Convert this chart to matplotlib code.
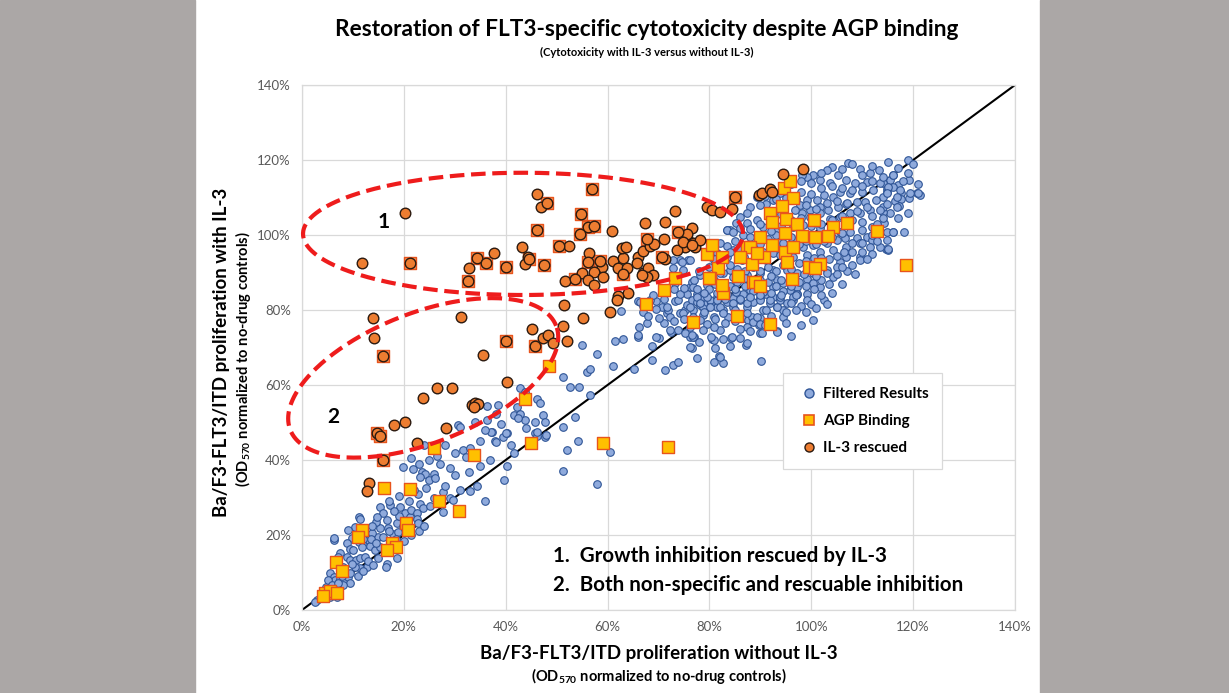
import numpy as np
import matplotlib.pyplot as plt
from matplotlib.patches import Rectangle
from matplotlib.lines import Line2D

plt.rcParams['font.family'] = ['Lato', 'DejaVu Sans']
plt.rcParams['mathtext.default'] = 'regular'

# ---------- data (values in %) ----------
# Filtered results (blue)
filt_x = [19.9, 21.7, 23.5, 24.2, 25.9, 23.2, 25.0, 26.1, 24.3, 27.6, 29.1, 29.7, 22.8, 23.2, 23.8, 25.1, 27.7,
          31.7, 32.3, 33.0, 32.8, 34.4, 35.9, 33.0, 37.4, 37.9, 39.5, 40.2, 39.7, 40.3, 41.7, 45.7, 46.1, 47.7,
          52.0, 54.1, 51.3, 30.7, 34.0,
          15.3, 17.3, 16.0, 19.2, 20.2, 21.2, 21.5, 22.5, 16.6, 16.9, 18.6, 19.9, 17.9, 18.9, 22.5, 22.8, 15.3,
          15.0, 13.7, 13.0, 12.0, 13.4, 14.3, 15.3, 16.3, 11.1, 11.4, 10.4, 9.1, 9.8, 11.1, 11.7, 8.8, 9.4, 6.2,
          7.5, 8.8, 9.4, 10.7, 11.4, 12.4, 12.7, 11.4, 10.4, 9.8, 8.1, 7.1, 5.5, 6.2, 6.5, 7.5, 8.4, 9.1, 9.4,
          8.1, 6.8, 6.2, 4.8, 5.2, 4.2, 3.5, 5.5, 6.8, 16.6, 16.4, 18.6, 6.2, 14.5, 13.8, 14.8,
          54.9, 55.9, 52.6, 54.3, 56.5, 51.3, 53.6, 47.4, 45.7, 43.8, 42.2, 41.6, 42.8, 42.5, 46.1, 46.7, 47.7,
          48.0, 46.1, 40.1, 38.1, 37.2, 36.3, 38.0, 38.5, 36.4, 31.0, 42.8, 43.8,
          57.9, 56.5, 61.1, 61.5, 62.6, 65.2, 66.2, 66.0, 67.8, 68.7, 70.1, 71.3, 72.9, 73.9, 72.5, 73.9, 68.8,
          76.5, 76.2, 77.0, 77.6, 80.6, 80.9, 81.9, 82.6, 84.2, 87.2, 90.1, 89.9, 93.2, 89.8, 87.0, 51.2, 60.5,
          57.9,
          66.0, 67.0, 69.6, 70.6, 71.6, 71.9, 73.2, 73.9, 74.2, 75.2, 75.5, 76.8, 76.5, 77.5, 78.1, 78.8, 79.5,
          80.4, 81.4, 82.7, 83.4, 83.7, 84.7, 86.0, 87.3, 87.6, 88.3, 88.6, 89.9, 90.6, 91.9, 93.2, 93.9, 92.5,
          91.2, 89.9, 88.6, 86.6, 84.7, 81.4, 80.1, 78.8, 77.5, 76.2, 75.5, 76.5, 74.2, 75.8, 72.9, 73.2, 74.2,
          89.9, 93.2, 95.8, 96.5, 94.5, 97.1,
          118.9, 119.9, 119.2, 117.1, 115.5, 114.1, 114.8, 116.1, 114.1, 114.9, 117.7, 116.4, 117.6, 119.2,
          120.8, 121.3, 117.3, 115.5, 114.0, 114.1, 114.3, 116.0, 118.2, 114.8, 114.7, 115.0,
          107.3, 109.6, 111.5, 113.2, 116.1, 104.0, 105.3, 103.0, 100.4, 99.1, 98.1, 101.7, 103.7, 106.9, 108.6,
          110.9, 113.5, 115.1, 117.4, 119.4, 121.0, 116.8, 114.8, 112.2, 109.9, 107.6, 105.6, 104.3, 102.4,
          101.1, 99.1, 97.8, 99.7, 101.7, 103.3, 105.3, 106.9, 108.9, 110.5, 112.8, 114.8, 116.8, 113.5, 111.5,
          109.6, 107.6, 105.6, 103.7, 101.7, 99.7, 98.1, 96.8, 93.9, 92.5, 91.2, 89.3, 88.0, 87.3, 86.0, 85.3,
          84.0, 83.4, 87.3, 89.3, 90.6, 93.2, 96.5, 98.4, 101.7, 103.7, 105.6, 107.6, 109.9, 111.9, 114.8,
          116.1, 110.9, 108.9, 106.6, 105.0, 103.0, 100.4, 98.4, 96.5, 93.9, 92.5, 90.6, 88.3, 86.7, 84.7, 83.4,
          82.1, 81.4, 80.8, 84.0, 86.3, 88.6, 91.2, 93.9, 96.5, 99.1, 101.7, 104.3, 106.9, 109.6, 111.9, 113.5,
          115.1, 111.5, 109.6, 109.6, 106.9, 105.6, 105.0, 103.0, 100.4, 99.1, 97.1, 95.2, 92.5, 89.9, 87.3,
          84.7, 82.7, 80.8, 79.5, 78.1, 76.8, 77.5, 79.5, 81.4, 83.4, 85.3, 88.0, 90.6, 92.5, 94.5, 97.1, 99.1,
          101.7, 104.3, 100.4, 96.5, 93.9, 91.9, 89.9, 87.3, 84.7, 82.1, 80.1, 78.1, 76.2, 74.9, 76.8, 78.8,
          80.8, 82.7, 85.0, 87.3, 89.3, 91.2, 93.2, 95.2, 97.1, 99.1, 102.4, 100.4, 94.5, 89.9, 93.2, 90.3,
          87.3, 84.4, 82.1, 80.8, 79.5, 78.1, 76.2, 75.2, 76.8, 76.2, 80.8, 82.1, 87.3,
          83.4, 84.7, 72.9, 74.6, 76.2, 74.9, 66.4, 68.3, 69.6, 71.6, 72.3, 63.1, 66.0, 69.6, 72.3, 76.5, 78.8,
          80.4, 82.7,
          # dense core, estimated
          84.0, 85.5, 87.0, 88.5, 90.0, 91.5, 93.0, 94.5, 96.0, 97.5, 99.0, 100.5, 102.0, 103.5, 105.0, 106.5,
          108.0, 110.0, 112.0, 84.0, 85.5, 87.0, 88.5, 90.0, 91.5, 93.0, 94.5, 96.0, 97.5, 99.0, 100.5, 102.0,
          103.5, 105.0, 107.0, 108.0, 80.0, 81.5, 83.0, 86.0, 88.0, 90.0, 92.0, 94.0, 96.0, 98.0, 100.0, 102.0,
          104.0, 106.0, 82.0, 83.5, 85.0, 86.5, 88.0, 90.0, 91.5, 93.0, 94.5, 96.0, 97.5, 99.0, 101.0, 102.5,
          104.0, 106.0, 108.0, 110.0, 112.0, 113.0, 86.0, 88.0, 90.0, 92.0, 94.0, 96.0, 98.0, 100.0, 102.0,
          104.0, 106.0, 108.0, 110.0, 112.0, 114.0, 111.0, 109.0, 107.0, 105.0, 103.0, 101.0, 99.0, 97.0, 95.0,
          93.0, 91.0, 90.0, 92.0, 94.0, 98.0, 100.0, 102.0, 104.0, 106.0, 108.0, 110.0, 112.0, 114.0, 116.0,
          118.0, 117.0, 110.0, 106.0, 102.0, 100.0, 96.0, 98.0, 108.0, 112.0, 115.0, 119.0, 121.0, 119.0, 117.0,
          113.0, 111.0, 108.5, 106.0, 103.0, 101.0, 98.5, 97.0, 94.0, 92.0, 89.0, 87.0, 85.0, 83.0, 81.0, 79.0,
          77.5, 79.0, 81.0, 83.0, 85.0, 86.0, 88.0, 91.0, 92.0, 95.0, 97.0, 99.0, 101.0, 103.0, 98.0, 96.0, 95.0,
          86.0, 84.0, 81.0, 78.0, 75.0, 73.0, 71.0, 70.0, 68.0, 67.0, 69.0, 71.0, 73.0, 75.0, 77.0, 78.0, 80.0,
          81.0, 84.0, 86.0,
          # lower left, estimated
          8.0, 9.5, 11.0, 12.0, 13.0, 14.0, 15.0, 10.0, 12.0, 13.5, 14.5, 16.0, 17.0, 18.5, 20.0, 21.5, 23.0,
          24.0, 19.0, 18.0, 17.0, 19.0, 21.0, 22.0, 26.0, 28.0, 30.0, 31.0, 29.0, 27.0, 26.5, 25.0, 23.0, 21.5,
          24.0, 28.0, 30.0, 35.0, 37.0, 35.0, 36.0, 39.0, 41.0, 44.0, 4.5, 5.8, 7.0, 7.8, 3.0, 2.5]
filt_y = [38.2, 37.5, 36.9, 36.4, 36.4, 35.4, 34.8, 35.1, 32.6, 31.6, 29.8, 29.3, 30.9, 28.4, 27.1, 27.7, 26.2,
          42.8, 40.9, 43.1, 36.7, 33.2, 29.1, 31.7, 47.6, 45.2, 46.2, 47.3, 34.8, 38.4, 42.0, 47.3, 46.4, 46.2,
          42.8, 45.2, 37.2, 49.3, 50.2,
          27.6, 28.0, 25.8, 27.4, 25.8, 24.9, 26.7, 25.8, 24.0, 22.0, 23.3, 22.4, 20.4, 20.9, 24.2, 23.1, 21.8,
          19.6, 20.6, 18.7, 17.3, 17.1, 16.0, 16.9, 15.6, 24.9, 24.4, 22.2, 21.3, 19.1, 18.2, 16.9, 17.8, 16.4,
          18.7, 15.1, 14.2, 13.3, 13.3, 14.0, 14.2, 11.6, 11.1, 11.6, 12.4, 11.6, 14.2, 9.8, 8.9, 8.0, 8.2, 8.0,
          8.9, 7.1, 6.7, 6.7, 5.8, 6.2, 8.0, 4.0, 3.1, 3.6, 3.6, 12.4, 11.6, 13.8, 19.1, 23.5, 22.5, 24.7,
          70.7, 63.6, 59.6, 59.6, 57.3, 48.9, 51.6, 52.0, 50.2, 50.7, 54.2, 52.0, 52.4, 51.1, 56.4, 55.1, 50.2,
          46.7, 47.6, 47.1, 44.9, 47.6, 50.7, 52.3, 54.7, 54.4, 48.9, 59.1, 58.2,
          68.3, 64.3, 65.1, 71.8, 79.8, 64.4, 75.6, 72.9, 76.6, 70.4, 72.6, 64.0, 65.3, 66.2, 74.2, 74.7, 66.7,
          70.0, 72.9, 72.9, 67.1, 72.3, 66.2, 67.7, 66.0, 72.6, 70.7, 66.4, 73.8, 74.5, 76.0, 78.0, 62.2, 42.2,
          33.5,
          82.5, 79.6, 82.4, 80.9, 79.1, 80.0, 82.5, 82.7, 79.1, 80.0, 81.3, 80.0, 82.7, 82.2, 81.3, 80.9, 82.2,
          81.8, 80.9, 80.0, 82.2, 78.2, 80.9, 82.7, 80.9, 77.3, 78.2, 76.9, 77.8, 80.0, 81.8, 80.9, 82.7, 83.6,
          84.4, 83.1, 82.2, 84.4, 83.1, 83.6, 82.7, 83.6, 84.4, 86.2, 84.4, 87.6, 93.3, 93.3, 91.1, 87.1, 84.4,
          86.2, 88.0, 85.3, 82.7, 80.0, 84.4,
          120.0, 118.9, 114.7, 113.3, 114.7, 113.8, 112.4, 112.9, 110.2, 111.6, 111.1, 109.2, 109.6, 109.8,
          111.1, 110.7, 107.7, 105.9, 106.2, 107.6, 103.3, 100.9, 100.9, 98.7, 96.4, 96.1,
          119.1, 117.5, 116.6, 117.3, 116.0, 118.2, 116.0, 117.3, 116.0, 115.6, 116.0, 114.7, 113.8, 114.7, 113.8,
          114.2, 113.8, 112.9, 112.0, 111.1, 111.1, 110.2, 111.1, 112.0, 111.6, 111.1, 111.6, 110.2, 110.7,
          109.3, 109.3, 108.0, 106.7, 107.6, 106.7, 107.6, 108.4, 108.9, 108.9, 109.3, 108.4, 107.6, 106.7, 106.7,
          105.8, 105.8, 104.9, 104.4, 105.8, 104.9, 105.8, 106.7, 111.1, 109.3, 108.4, 110.2, 107.6, 105.8, 104.9,
          103.1, 101.3, 101.3, 103.1, 104.0, 102.2, 101.3, 102.2, 102.7, 101.8, 100.4, 100.9, 100.9, 101.3, 102.2,
          100.9, 100.9, 99.6, 99.1, 99.1, 98.7, 97.8, 97.3, 96.9, 98.7, 98.2, 95.1, 95.6, 96.4, 94.2, 96.0, 94.2,
          97.8, 95.1, 93.3, 90.7, 93.3, 92.4, 93.3, 94.7, 94.2, 94.7, 95.6, 96.0, 96.9, 97.8, 98.7, 96.9,
          96.4, 96.9, 94.2, 93.3, 94.2, 92.9, 91.6, 90.7, 89.8, 88.4, 89.8, 90.7, 90.7, 89.8, 89.3,
          88.9, 89.8, 88.0, 86.7, 89.3, 86.2, 83.6, 83.6, 82.7, 84.4, 84.9, 85.3, 84.9, 86.2, 87.1, 86.2, 84.4,
          86.2, 88.9, 87.1, 83.6, 83.6, 82.7, 82.7, 81.8, 81.8, 80.9, 80.9, 81.8, 80.9, 79.1, 78.2, 78.7,
          78.2, 79.1, 80.0, 79.1, 78.2, 80.0, 80.9, 81.8, 84.4, 82.7, 82.7, 77.3, 78.2, 76.4, 74.2, 73.8,
          75.6, 72.9, 74.7, 75.6, 76.4, 77.3, 75.6, 73.8, 72.9, 70.2, 72.0, 67.6, 71.1,
          101.3, 100.9, 93.3, 92.9, 93.3, 90.7, 82.2, 82.7, 80.4, 80.9, 78.2, 72.4, 73.3, 72.9, 74.7, 73.3, 74.7,
          72.9, 72.4,
          # dense core, estimated
          92.0, 91.0, 90.5, 91.5, 90.5, 91.5, 90.5, 92.0, 91.0, 92.5, 93.0, 94.0, 94.0, 93.5, 94.5, 95.5,
          95.5, 95.5, 95.0, 86.5, 87.5, 86.5, 85.0, 88.0, 87.5, 86.5, 85.0, 86.5, 87.5, 86.5, 85.5, 88.0,
          87.0, 89.5, 90.5, 92.0, 85.5, 84.5, 83.0, 83.0, 83.5, 84.0, 84.5, 84.0, 82.0, 81.0, 81.5, 84.0,
          84.5, 87.0, 90.0, 97.0, 98.5, 100.0, 99.5, 97.5, 99.0, 100.0, 98.0, 99.5, 97.5, 98.5, 97.5, 98.5,
          99.5, 100.5, 98.0, 98.0, 100.0, 103.0, 102.0, 101.5, 103.0, 101.0, 102.5, 104.0, 104.5, 102.5, 103.0,
          104.0, 105.0, 104.0, 103.5, 105.0, 104.5, 107.5, 106.5, 108.5, 109.0, 108.5, 107.0, 108.0, 109.5, 110.0,
          109.5, 110.5, 108.0, 106.5, 105.5, 111.5, 111.0, 112.5, 113.0, 112.5, 112.0, 113.0, 114.5, 115.5, 116.0,
          114.5, 118.0, 116.0, 117.5, 116.5, 114.0, 113.5, 114.5, 119.0, 118.5, 119.5, 116.5, 113.5, 106.0, 104.5,
          98.5, 93.5, 89.5, 91.5, 90.0, 89.0, 89.5, 84.0, 88.0, 89.0, 87.5, 88.5, 85.5, 85.0, 87.0, 84.5,
          85.5, 79.5, 77.5, 76.5, 77.0, 75.0, 74.5, 76.0, 78.5, 79.5, 80.0, 79.5, 80.5, 81.5, 76.0, 73.0, 76.5,
          72.5, 70.5, 70.0, 71.5, 77.5, 77.0, 76.5, 78.0, 78.5, 81.0, 84.0, 83.0, 85.5, 86.0, 88.0, 90.5, 91.5,
          93.5, 95.5, 96.0,
          # lower left, estimated
          10.0, 10.0, 9.0, 10.5, 13.0, 12.0, 14.0, 16.0, 19.0, 19.0, 18.0, 19.5, 21.0, 19.0, 18.5, 20.0, 21.0,
          22.5, 25.0, 26.5, 29.0, 30.5, 29.0, 32.0, 30.0, 33.0, 36.0, 32.0, 38.0, 39.0, 41.0, 40.0, 39.0, 40.5,
          44.0, 44.0, 42.0, 38.5, 40.0, 45.0, 48.0, 49.5, 44.0, 48.5, 4.8, 6.7, 7.2, 9.0, 2.8, 2.2]

# AGP binding only (yellow squares)
agp_x = [25.9, 33.8, 45.0, 16.1, 21.2, 26.9, 30.8, 20.4, 20.8, 11.8, 11.0, 17.7, 18.5, 16.7, 6.7, 7.9, 4.5, 5.5,
         6.9, 4.1, 48.5, 43.8, 59.1, 71.9, 67.5, 71.1, 76.8, 85.4, 91.9, 79.5, 81.7, 82.7, 80.1, 82.5, 80.5,
         87.4, 88.4, 85.6, 88.6, 90.7, 92.3, 94.8, 95.2, 96.2, 73.2, 94.6, 95.8, 96.4, 94.2, 91.9, 92.3, 95.0,
         97.2, 100.5, 104.3, 107.0, 112.9, 118.6, 89.9, 94.8, 98.2, 100.7, 103.3, 88.0, 96.4, 86.0, 89.3, 82.5,
         88.9, 89.9, 79.9, 99.6, 101.7, 100.7]
agp_y = [43.2, 41.3, 44.5, 32.5, 32.3, 29.1, 26.4, 23.2, 21.3, 21.3, 19.5, 17.9, 16.8, 16.0, 12.8, 10.4, 4.5, 5.1,
         4.5, 3.7, 65.1, 56.3, 44.5, 43.5, 81.6, 85.3, 76.8, 78.4, 76.3, 94.9, 91.2, 84.5, 88.5, 86.7, 97.3,
         96.8, 92.3, 89.1, 87.5, 94.1, 97.3, 95.5, 92.8, 88.3, 88.5, 112.5, 114.4, 109.9, 107.7, 105.9, 103.5, 104.3,
         102.9, 104.0, 102.1, 103.2, 101.1, 92.0, 99.5, 100.5, 99.7, 99.5, 99.7, 96.8, 96.8, 94.1, 95.2, 94.1,
         87.5, 86.4, 88.5, 91.5, 92.3, 91.2]

# AGP binding and IL-3 rescued (square under circle)
both_x = [21.2, 48.1, 56.9, 54.8, 56.2, 57.3, 54.6, 46.1, 85.0, 50.5, 34.4, 36.1, 40.1, 44.6, 47.5, 32.6, 56.2,
          58.5, 53.6, 63.0, 67.7, 70.7, 73.8, 40.1, 45.7, 15.9, 14.7, 15.3, 15.9]
both_y = [92.5, 108.5, 112.3, 105.6, 102.1, 102.4, 100.3, 101.3, 110.1, 97.1, 93.9, 92.5, 91.5, 93.6, 92.0, 87.7, 92.8,
          93.1, 88.3, 89.6, 98.9, 94.1, 100.8, 71.7, 70.4, 67.7, 47.2, 46.4, 40.0]

# IL-3 rescued only (orange circles)
il3_x = [20.2, 11.8, 46.1, 47.0, 60.9, 73.2, 67.3, 71.3, 76.6, 79.5, 80.5, 82.1, 84.4, 52.4, 43.2, 37.7, 32.8,
         44.4, 43.8, 56.4, 58.9, 57.3, 55.0, 51.6, 56.2, 57.3, 59.1, 61.1, 63.0, 62.8, 63.6, 62.0, 63.8, 66.0,
         65.8, 67.0, 68.3, 69.1, 71.1, 67.0, 67.9, 68.9, 67.7, 66.8, 71.3, 75.6, 76.8, 75.2, 77.2, 73.6, 78.1,
         64.0, 62.0, 60.5, 61.8, 51.4, 55.2, 31.2, 13.9, 14.1, 45.2, 47.3, 48.3, 49.3, 52.0, 51.2, 35.5, 40.3,
         26.5, 29.5, 23.8, 33.4, 34.0, 34.6, 33.8, 18.1, 20.2, 28.3, 22.6, 13.2, 12.8, 89.8, 90.3, 91.9, 92.2,
         94.5, 98.4, 75.5, 74.9, 76.5]
il3_y = [105.9, 92.5, 110.9, 107.5, 101.1, 106.4, 103.2, 103.5, 101.9, 107.5, 106.7, 106.1, 106.9, 97.1, 96.8, 95.2,
         91.2, 94.1, 92.3, 95.2, 91.5, 90.1, 89.9, 87.7, 88.0, 86.7, 88.8, 93.1, 93.9, 96.5, 96.8, 91.2, 91.2, 94.1,
         92.5, 95.7, 97.1, 97.6, 98.9, 89.9, 91.2, 89.3, 88.8, 89.3, 93.6, 99.2, 97.9, 96.8, 96.8, 96.0, 98.7,
         84.5, 83.7, 79.5, 82.7, 81.3, 77.9, 78.1, 77.9, 72.5, 74.9, 72.5, 73.3, 71.2, 71.7, 75.7, 68.0, 60.8,
         59.2, 59.2, 56.5, 54.7, 55.2, 54.9, 54.1, 49.3, 50.1, 48.5, 44.5, 33.9, 31.7, 110.7, 111.3, 112.4, 111.6,
         116.4, 117.5, 100.2, 98.2, 97.3]

ticks = [0, 20, 40, 60, 80, 100, 120, 140]
tick_labels = [f"{t}%" for t in ticks]

# ---------- figure ----------
W, H = 1229, 693
fig = plt.figure(figsize=(W / 100, H / 100), dpi=100, facecolor='white')
gray = '#ABA7A6'
fig.patches.append(Rectangle((0, 0), 195 / W, 1, transform=fig.transFigure, color=gray, zorder=-10))
fig.patches.append(Rectangle((1040 / W, 0), 1 - 1040 / W, 1, transform=fig.transFigure, color=gray, zorder=-10))

ax = fig.add_axes([302 / W, 1 - 610 / H, 713 / W, 525 / H])
ax.set_xlim(0, 140)
ax.set_ylim(0, 140)
ax.set_xticks(ticks)
ax.set_yticks(ticks)
ax.set_xticklabels(tick_labels)
ax.set_yticklabels(tick_labels)
ax.tick_params(length=0, labelsize=9.5, labelcolor='#595959', pad=8)
ax.grid(True, color='#D9D9D9', lw=0.9)
for s in ax.spines.values():
    s.set_color('#D9D9D9')
    s.set_linewidth(0.9)
ax.set_axisbelow(True)

ax.plot([0, 140], [0, 140], color='black', lw=1.5, zorder=2)

ax.scatter(filt_x, filt_y, s=30, marker='o', facecolor='#8FAADC', edgecolor='#2F5597', lw=0.8, zorder=3)
ax.scatter(agp_x, agp_y, s=80, marker='s', facecolor='#FFC000', edgecolor='#E8541C', lw=1.0, zorder=4)
ax.scatter(both_x, both_y, s=80, marker='s', facecolor='#F4915A', edgecolor='#E8541C', lw=1.0, zorder=4)
ax.scatter(il3_x + both_x, il3_y + both_y, s=58, marker='o', facecolor='#ED7D31', edgecolor='#2B1A10',
           lw=1.0, zorder=5)

# red dashed ellipses (annotation)
t = np.linspace(0, 2 * np.pi, 300)
ax.plot(43.4 + 43.2 * np.cos(t), 100.3 + 16.3 * np.sin(t), color='#EE1C1C', lw=3,
        ls=(0, (3.5, 1.6)), clip_on=False, zorder=6)
ex = 23.8 + 26.1 * np.cos(t) - 4.67 * np.sin(t)
ey = 61.9 + 13.9 * np.cos(t) + 16.1 * np.sin(t)
ax.plot(ex, ey, color='#EE1C1C', lw=3, ls=(0, (3.5, 1.6)), clip_on=False, zorder=6)

ax.text(16.1, 103.5, '1', fontsize=15, fontweight='bold', ha='center', va='center', zorder=7)
ax.text(6.1, 51.5, '2', fontsize=15, fontweight='bold', ha='center', va='center', zorder=7)
ax.text(49.3, 14.4, '1.  Growth inhibition rescued by IL-3', fontsize=14.8, fontweight='bold',
        ha='left', va='center', zorder=7)
ax.text(49.3, 6.7, '2.  Both non-specific and rescuable inhibition', fontsize=14.8, fontweight='bold',
        ha='left', va='center', zorder=7)

handles = [
    Line2D([], [], ls='', marker='o', ms=6.5, mfc='#8FAADC', mec='#2F5597', mew=1.0),
    Line2D([], [], ls='', marker='s', ms=7, mfc='#FFC000', mec='#E8541C', mew=1.2),
    Line2D([], [], ls='', marker='o', ms=6.5, mfc='#ED7D31', mec='#2B1A10', mew=1.0),
]
leg = ax.legend(handles, ['Filtered Results', 'AGP Binding', 'IL-3 rescued'], loc='upper left',
                bbox_to_anchor=(0.675, 0.451), borderaxespad=0, fancybox=False, framealpha=1,
                edgecolor='#D9D9D9', prop={'weight': 'bold', 'size': 11}, handletextpad=0.1,
                labelspacing=0.85, handlelength=1.6, borderpad=0.9)
leg.get_frame().set_linewidth(0.9)
leg.set_zorder(8)

fig.text(0.5265, 1 - 30 / H, 'Restoration of FLT3-specific cytotoxicity despite AGP binding',
         fontsize=16.3, fontweight='bold', ha='center', va='center')
fig.text(0.5265, 1 - 52 / H, '(Cytotoxicity with IL-3 versus without IL-3)',
         fontsize=8, fontweight='bold', ha='center', va='center')
fig.text(658.5 / W, 1 - 653 / H, 'Ba/F3-FLT3/ITD proliferation without IL-3',
         fontsize=13.5, fontweight='bold', ha='center', va='center')
fig.text(658.5 / W, 1 - 676 / H, '(OD$_{570}$ normalized to no-drug controls)',
         fontsize=10.5, fontweight='bold', ha='center', va='center')
fig.text(222 / W, 1 - 352 / H, 'Ba/F3-FLT3/ITD proliferation with IL-3',
         fontsize=13.5, fontweight='bold', ha='center', va='center', rotation=90)
fig.text(243 / W, 1 - 359 / H, '(OD$_{570}$ normalized to no-drug controls)',
         fontsize=10.5, fontweight='bold', ha='center', va='center', rotation=90)

fig.savefig('out.png', dpi=100)
